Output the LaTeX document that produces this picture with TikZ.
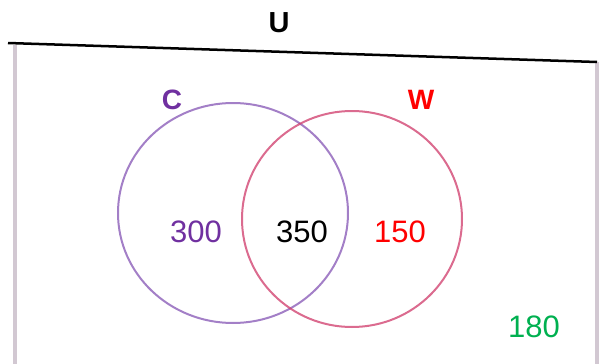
\documentclass[tikz,border=0pt]{standalone}
\usepackage{fontspec}
\setmainfont{Liberation Sans}
\usepackage{tikz}
\usetikzlibrary{positioning, calc}
\definecolor{setPurple}{RGB}{112,48,160}
\definecolor{setRed}{RGB}{255,0,0}
\definecolor{setGreen}{RGB}{0,176,80}
\definecolor{penPurple}{RGB}{140,95,185}
\definecolor{penRed}{RGB}{210,70,115}
\definecolor{edgeGrey}{RGB}{210,200,210}
\tikzset{
    setname/.style={font=\fontsize{28}{32}\selectfont\bfseries, text=#1, inner sep=0pt},
    setname/.default=black,
    count/.style={font=\fontsize{31}{36}\selectfont, text=#1, inner sep=0pt},
    count/.default=black,
    ring/.style={draw=#1, line width=2pt, opacity=0.8},
    frame/.style={draw=edgeGrey, line width=3.5pt}
}

\begin{document}
\begin{tikzpicture}[x=1pt, y=-1pt]
    \useasboundingbox (0,0) rectangle (600,364);
    % universe box: top edge drawn in pen, sides faint
    \coordinate (tl) at (8,43);
    \coordinate (tr) at (597,62);
    \coordinate (bl) at (15,364);
    \coordinate (br) at (597,364);
    \draw[frame] (15,45) -- (bl);
    \draw[frame] (597,62) -- (br);
    \draw[line width=2.5pt] (tl) -- (tr);
    \node[setname, font=\fontsize{29}{32}\selectfont\bfseries] (U) at (279,23) {U};
    % the two sets
    \coordinate (cC) at (233,213);
    \coordinate (cW) at (352,219);
    \draw[ring=penPurple] (cC) ellipse [x radius=115, y radius=110];
    \draw[ring=penRed] (cW) ellipse [x radius=110, y radius=108];
    \node[setname=setPurple] (C) at (172,100) {C};
    \node[setname=setRed] (W) at (421,100) {W};
    % counts
    \node[count=setPurple] (onlyC) at (196,232) {300};
    \node[count] (both) at (302,232) {350};
    \node[count=setRed] (onlyW) at (400,232) {150};
    \node[count=setGreen] (none) at (534,327) {180};
\end{tikzpicture}
\end{document}
